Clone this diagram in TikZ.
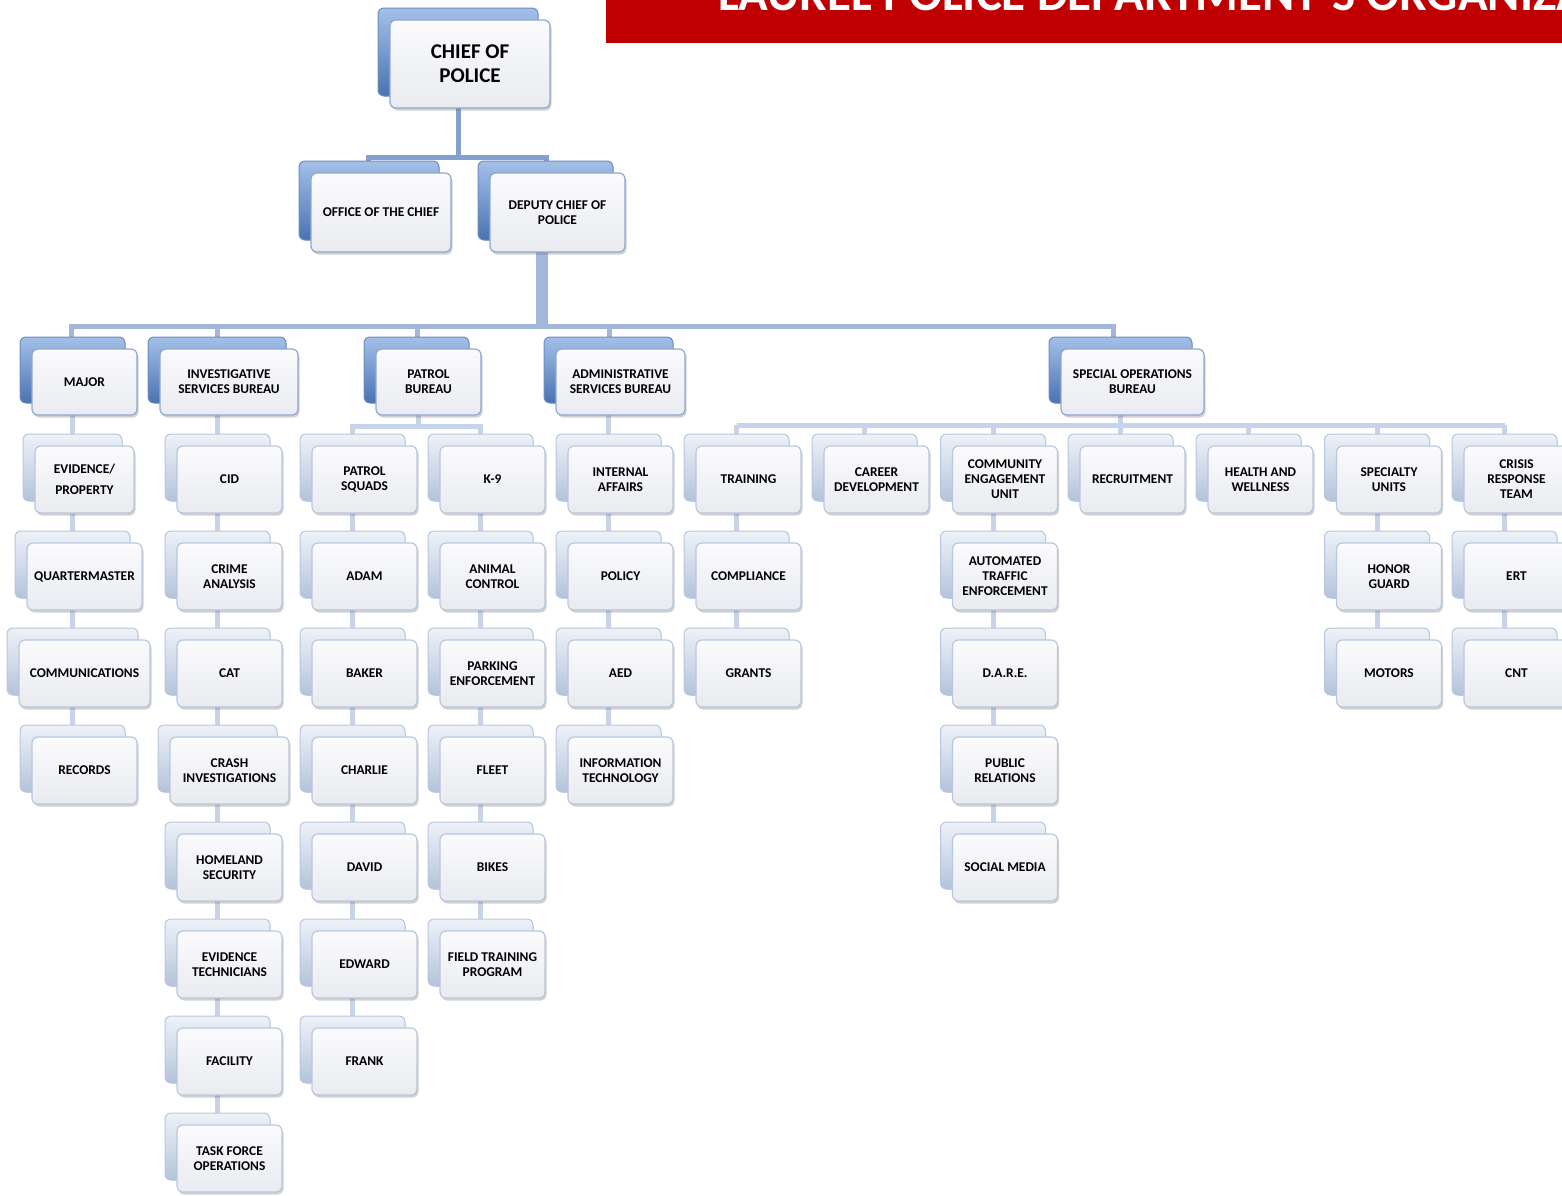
\documentclass[tikz,border=0pt]{standalone}
\usepackage{fontspec}
\setmainfont{Carlito}
\usepackage{tikz}
\usetikzlibrary{shadows,backgrounds}

\definecolor{bannerred}{HTML}{C00000}
\definecolor{rimblue}{HTML}{8FA8D2}
\definecolor{leafrim}{HTML}{B8C7E0}
\definecolor{backtop}{HTML}{A3C0E8}
\definecolor{backbot}{HTML}{4A72B2}
\definecolor{leaftop}{HTML}{EEF2F8}
\definecolor{leafbot}{HTML}{B4C3DA}
\definecolor{facetop}{HTML}{FBFBFD}
\definecolor{facebot}{HTML}{E9EBF0}
\definecolor{linkblue}{HTML}{A2B7DA}
\definecolor{linkdeep}{HTML}{83A1CF}
\definecolor{linkpale}{HTML}{C7D3E8}

\tikzset{
  orgbox/.style={rectangle, rounded corners=6pt, align=center, inner sep=2pt,
    font=\bfseries\fontsize{13.4}{15}\selectfont, line width=1.2pt,
    top color=facetop, bottom color=facebot, draw=rimblue,
    drop shadow={shadow xshift=1.5pt, shadow yshift=-2.5pt, opacity=.3, fill=black!60}},
  headbox/.style={orgbox, minimum width=#1, minimum height=66pt,
    copy shadow={shadow xshift=-12pt, shadow yshift=12pt, top color=backtop,
      bottom color=backbot, draw=backbot!80!white, line width=1pt}},
  headbox/.default=105pt,
  leafbox/.style={orgbox, draw=leafrim, minimum width=#1, minimum height=67pt,
    copy shadow={shadow xshift=-12pt, shadow yshift=12pt, top color=leaftop,
      bottom color=leafbot, draw=leafrim, line width=1pt}},
  leafbox/.default=105pt,
  mainlink/.style={draw=linkblue, line width=5pt},
  trunk/.style={draw=linkdeep, line width=#1},
  trunk/.default=5pt,
  leaflink/.style={draw=linkpale, line width=5pt},
}

\begin{document}
\begin{tikzpicture}[x=1pt,y=-1pt]
  \useasboundingbox (0,0) rectangle (1562,1195);
  \clip (0,0) rectangle (1562,1195);

  % banner
  \fill[bannerred] (606,0) rectangle (1562,43);
  \node[anchor=base west, inner sep=0pt, text=white,
    font=\bfseries\fontsize{49}{49}\selectfont] (title) at (718,10)
    {LAUREL POLICE DEPARTMENT’S ORGANIZA};

  % top of the chart
  \node[headbox=160pt, minimum height=88pt, font=\bfseries\fontsize{21}{24}\selectfont]
    (chief) at (470,64) {CHIEF OF\\POLICE};
  \node[headbox=140pt, minimum height=79pt] (office) at (381,212.5) {OFFICE OF THE CHIEF};
  \node[headbox=135pt, minimum height=79pt] (deputy) at (557.5,212.5) {DEPUTY CHIEF OF\\POLICE};

  % bureaus
  \node[headbox] (major) at (84.5,382) {MAJOR};
  \node[headbox=138pt] (invest) at (229,382) {INVESTIGATIVE\\SERVICES BUREAU};
  \node[headbox] (patrolb) at (428.5,382) {PATROL\\BUREAU};
  \node[headbox=129pt] (admin) at (620.5,382) {ADMINISTRATIVE\\SERVICES BUREAU};
  \node[headbox=143pt] (special) at (1132.5,382) {SPECIAL OPERATIONS\\BUREAU};

  % major
  \node[leafbox=99pt] (evid) at (84.5,479.5) {EVIDENCE/\\[6pt]PROPERTY};
  \node[leafbox=115pt] (qmaster) at (84.5,576.5) {QUARTERMASTER};
  \node[leafbox=131pt] (comms) at (84.5,673.5) {COMMUNICATIONS};
  \node[leafbox] (records) at (84.5,770.5) {RECORDS};

  % investigative
  \node[leafbox] (cid) at (229.5,479.5) {CID};
  \node[leafbox] (crime) at (229.5,576.5) {CRIME\\ANALYSIS};
  \node[leafbox] (cat) at (229.5,673.5) {CAT};
  \node[leafbox=119pt] (crash) at (229.5,770.5) {CRASH\\INVESTIGATIONS};
  \node[leafbox] (homeland) at (229.5,867.5) {HOMELAND\\SECURITY};
  \node[leafbox] (evtech) at (229.5,964.5) {EVIDENCE\\TECHNICIANS};
  \node[leafbox] (facility) at (229.5,1061.5) {FACILITY};
  \node[leafbox] (taskforce) at (229.5,1158.5) {TASK FORCE\\OPERATIONS};

  % patrol
  \node[leafbox] (squads) at (364.5,479.5) {PATROL\\SQUADS};
  \node[leafbox] (adam) at (364.5,576.5) {ADAM};
  \node[leafbox] (baker) at (364.5,673.5) {BAKER};
  \node[leafbox] (charlie) at (364.5,770.5) {CHARLIE};
  \node[leafbox] (david) at (364.5,867.5) {DAVID};
  \node[leafbox] (edward) at (364.5,964.5) {EDWARD};
  \node[leafbox] (frank) at (364.5,1061.5) {FRANK};
  \node[leafbox] (k9) at (492.5,479.5) {K-9};
  \node[leafbox] (animal) at (492.5,576.5) {ANIMAL\\CONTROL};
  \node[leafbox] (parking) at (492.5,673.5) {PARKING\\ENFORCEMENT};
  \node[leafbox] (fleet) at (492.5,770.5) {FLEET};
  \node[leafbox] (bikes) at (492.5,867.5) {BIKES};
  \node[leafbox] (fto) at (492.5,964.5) {FIELD TRAINING\\PROGRAM};

  % administrative
  \node[leafbox] (ia) at (620.5,479.5) {INTERNAL\\AFFAIRS};
  \node[leafbox] (policy) at (620.5,576.5) {POLICY};
  \node[leafbox] (aed) at (620.5,673.5) {AED};
  \node[leafbox] (infotech) at (620.5,770.5) {INFORMATION\\TECHNOLOGY};

  % special operations
  \node[leafbox] (training) at (748.5,479.5) {TRAINING};
  \node[leafbox] (compliance) at (748.5,576.5) {COMPLIANCE};
  \node[leafbox] (grants) at (748.5,673.5) {GRANTS};
  \node[leafbox] (career) at (876.5,479.5) {CAREER\\DEVELOPMENT};
  \node[leafbox] (community) at (1005,479.5) {COMMUNITY\\ENGAGEMENT\\UNIT};
  \node[leafbox] (ate) at (1005,576.5) {AUTOMATED\\TRAFFIC\\ENFORCEMENT};
  \node[leafbox] (dare) at (1005,673.5) {D.A.R.E.};
  \node[leafbox] (pr) at (1005,770.5) {PUBLIC\\RELATIONS};
  \node[leafbox] (social) at (1005,867.5) {SOCIAL MEDIA};
  \node[leafbox] (recruit) at (1132.5,479.5) {RECRUITMENT};
  \node[leafbox] (health) at (1260.5,479.5) {HEALTH AND\\WELLNESS};
  \node[leafbox] (specialty) at (1389,479.5) {SPECIALTY\\UNITS};
  \node[leafbox] (honor) at (1389,576.5) {HONOR\\GUARD};
  \node[leafbox] (motors) at (1389,673.5) {MOTORS};
  \node[leafbox] (crisis) at (1516.5,479.5) {CRISIS\\RESPONSE\\TEAM};
  \node[leafbox] (ert) at (1516.5,576.5) {ERT};
  \node[leafbox] (cnt) at (1516.5,673.5) {CNT};

  \coordinate (cbar) at (0,157);
  \coordinate (lvbar) at (0,326);
  \coordinate (pbar) at (0,426);
  \coordinate (sbar) at (0,425);

  \begin{scope}[on background layer]
    \draw[trunk] ([xshift=-12pt]chief.center) -- ([xshift=-12pt]chief.center |- cbar);
    \draw[trunk] ([xshift=-13pt]office.center) |- ([xshift=-11.5pt]deputy.center |- cbar)
      -- ([xshift=-11.5pt]deputy.center);
    \draw[mainlink, line width=12pt] ([xshift=-15.5pt]deputy.center) -- ([xshift=-15.5pt]deputy.center |- lvbar);
    \draw[mainlink] ([xshift=-13.5pt]major.center) |- ([xshift=-19.5pt]special.center |- lvbar)
      -- ([xshift=-19.5pt]special.center);
    \foreach \n in {invest,patrolb,admin}
      \draw[mainlink] ([xshift=-11.5pt]\n.center) -- ([xshift=-11.5pt]\n.center |- lvbar);

    \draw[leaflink] ([xshift=-12pt]major.center) -- ([xshift=-12pt]records.center);
    \draw[leaflink] ([xshift=-12pt]invest.center) -- ([xshift=-12pt]invest.center |- taskforce.center);
    \draw[leaflink] ([xshift=-10.5pt]patrolb.center) -- ([xshift=-10.5pt]patrolb.center |- pbar);
    \draw[leaflink] ([xshift=-12pt]frank.center) |- ([xshift=-12pt]k9.center |- pbar)
      -- ([xshift=-12pt]fto.center);
    \draw[leaflink] ([xshift=-12pt]admin.center) -- ([xshift=-12pt]admin.center |- infotech.center);
    \draw[leaflink] ([xshift=-12pt]special.center) -- ([xshift=-12pt]special.center |- sbar);
    \draw[leaflink] ([xshift=-12pt]training.center |- sbar) -- ([xshift=-12pt]crisis.center |- sbar);
    \foreach \a/\b in {training/grants,career/career,community/social,recruit/recruit,
        health/health,specialty/motors,crisis/cnt}
      \draw[leaflink] ([xshift=-12pt]\a.center |- sbar) -- ([xshift=-12pt]\b.center);
  \end{scope}
\end{tikzpicture}
\end{document}
